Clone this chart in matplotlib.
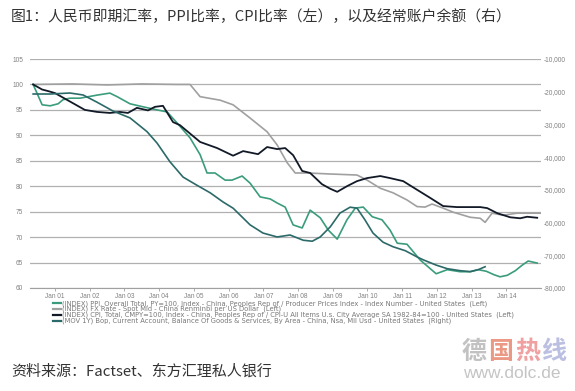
import matplotlib
matplotlib.use("Agg")
import matplotlib.pyplot as plt
from matplotlib.lines import Line2D

# ---------------- data ----------------
ppi_years = [2000.37, 2000.63, 2000.86, 2001.09, 2001.23, 2001.43, 2001.72, 2002.21, 2002.58, 2002.79,
             2003.16, 2003.54, 2003.94, 2004.23, 2004.52, 2004.89, 2005.18, 2005.38, 2005.61, 2005.90,
             2006.10, 2006.39, 2006.62, 2006.91, 2007.20, 2007.40, 2007.63, 2007.86, 2008.12, 2008.35,
             2008.64, 2008.87, 2009.13, 2009.41, 2009.65, 2009.88, 2010.14, 2010.42, 2010.65, 2010.86,
             2011.14, 2011.52, 2011.98, 2012.30, 2012.67, 2012.96, 2013.19, 2013.42, 2013.65, 2013.82,
             2014.03, 2014.26, 2014.46, 2014.63, 2014.89]
ppi_values = [100.0, 96.0, 95.8, 96.2, 97.0, 97.3, 97.3, 97.9, 98.3, 97.6,
              96.2, 95.6, 95.0, 94.6, 92.4, 89.5, 86.2, 82.6, 82.6, 81.2,
              81.2, 82.0, 80.6, 77.9, 77.5, 76.7, 75.9, 72.4, 71.8, 75.3,
              73.8, 71.4, 69.6, 73.4, 75.7, 75.9, 74.0, 73.4, 71.4, 68.8,
              68.6, 65.5, 62.8, 63.6, 63.2, 63.2, 63.6, 63.3, 62.6, 62.2,
              62.5, 63.4, 64.5, 65.3, 64.9]

fx_years = [2000.37, 2001.5, 2002.5, 2003.5, 2004.5, 2004.89, 2005.18, 2005.76, 2006.13, 2006.62,
            2007.11, 2007.40, 2007.69, 2007.92, 2008.29, 2008.93, 2009.70, 2009.99, 2010.37, 2010.74,
            2011.14, 2011.43, 2011.66, 2011.86, 2012.18, 2012.47, 2012.96, 2013.25, 2013.39, 2013.59,
            2013.91, 2014.31, 2014.98]
fx_values = [100.0, 100.1, 99.9, 100.1, 100.0, 100.0, 97.6, 96.9, 96.0, 93.4,
             90.7, 88.1, 84.6, 82.6, 82.6, 82.4, 82.2, 81.2, 79.6, 78.7,
             77.3, 76.0, 75.9, 76.5, 75.7, 74.9, 73.9, 73.7, 72.9, 74.7,
             74.3, 74.7, 74.7]

cpi_years = [2000.37, 2000.63, 2000.80, 2001.00, 2001.86, 2002.21, 2002.58, 2002.87, 2003.10, 2003.36,
             2003.68, 2003.88, 2004.11, 2004.40, 2004.60, 2005.18, 2005.67, 2006.13, 2006.42, 2006.85,
             2007.11, 2007.40, 2007.63, 2007.86, 2008.12, 2008.35, 2008.69, 2008.93, 2009.13, 2009.41,
             2009.70, 2009.99, 2010.37, 2010.65, 2011.03, 2011.43, 2011.81, 2012.18, 2012.58, 2013.25,
             2013.45, 2013.74, 2014.11, 2014.40, 2014.60, 2014.89]
cpi_values = [100.0, 99.0, 98.7, 98.3, 95.0, 94.6, 94.4, 94.6, 94.4, 95.4,
              94.9, 95.6, 95.8, 92.6, 92.0, 88.7, 87.5, 86.0, 86.9, 86.3,
              87.7, 87.3, 87.5, 86.1, 83.0, 82.6, 80.4, 79.5, 78.9, 80.0,
              81.0, 81.6, 82.0, 81.6, 81.0, 79.3, 77.7, 76.1, 75.9, 75.9,
              75.7, 74.7, 73.9, 73.7, 74.0, 73.8]

bop_years = [2000.37, 2000.86, 2001.43, 2001.81, 2002.21, 2002.67, 2003.16, 2003.65, 2003.94, 2004.31,
             2004.69, 2005.09, 2005.47, 2005.84, 2006.13, 2006.62, 2006.99, 2007.40, 2007.77, 2008.15,
             2008.41, 2008.64, 2008.93, 2009.21, 2009.50, 2009.70, 2009.93, 2010.16, 2010.45, 2010.74,
             2011.09, 2011.43, 2011.61, 2011.98, 2012.30, 2012.67, 2012.96, 2013.19, 2013.39]
bop_values = [-20700, -20700, -20400, -21000, -23200, -25900, -28000, -32200, -35700, -41400,
              -46100, -48600, -50900, -53700, -55600, -60700, -63200, -64400, -63800, -65400,
              -65700, -64400, -61300, -57100, -55300, -55600, -59200, -63200, -66000, -67400,
              -68600, -70500, -71400, -73000, -74100, -74700, -75000, -74400, -73500]

x_tick_years = list(range(2001, 2015))
x_tick_labels = ["Jan %02d" % (y % 100) for y in x_tick_years]
left_ticks = list(range(60, 106, 5))
right_ticks = list(range(-80000, -9999, 10000))

series_labels = [
    "(INDEX) PPI, Overall Total, PY=100, Index - China, Peoples Rep of / Producer Prices Index - Index Number - United States  (Left)",
    "(INDEX) FX Rate - Spot Mid - China Renminbi per US Dollar  (Left)",
    "(INDEX) CPI, Total, CMPY=100, Index - China, Peoples Rep of / CPI-U All Items U.s. City Average SA 1982-84=100 - United States  (Left)",
    "(MOV 1Y) Bop, Current Account, Balance Of Goods & Services, By Area - China, Nsa, Mil Usd - United States  (Right)",
]
title_text = "图1：人民币即期汇率，PPI比率，CPI比率（左），以及经常账户余额（右）"
source_text = "资料来源：Factset、东方汇理私人银行"

# ---------------- style ----------------
C_PPI = "#3a9c7c"
C_FX = "#a0a0a0"
C_CPI = "#121a28"
C_BOP = "#2b6a68"
TICK_C = "#808080"
W, H = 575, 391

plt.rcParams['font.family'] = ['Liberation Sans', 'DejaVu Sans']
fig = plt.figure(figsize=(W / 100, H / 100), dpi=100)
fig.patch.set_facecolor("white")

ax_l, ax_r, ax_t, ax_b = 30, 541, 59, 288
ax = fig.add_axes([ax_l / W, 1 - ax_b / H, (ax_r - ax_l) / W, (ax_b - ax_t) / H])
ax2 = ax.twinx()

ax.plot(ppi_years, ppi_values, color=C_PPI, lw=1.2, zorder=3)
ax.plot(fx_years, fx_values, color=C_FX, lw=1.2, zorder=2)
ax.plot(cpi_years, cpi_values, color=C_CPI, lw=1.3, zorder=4)
ax2.plot(bop_years, bop_values, color=C_BOP, lw=1.2, zorder=3)

ax.set_xlim(2000.28, 2015.0)
ax.set_ylim(60, 105)
ax2.set_ylim(-80000, -10000)

ax.set_yticks(left_ticks)
ax.set_yticklabels([str(v) for v in left_ticks])
ax2.set_yticks(right_ticks)
ax2.set_yticklabels([f"{v:,}" for v in right_ticks])
ax.set_xticks(x_tick_years)
ax.set_xticklabels(x_tick_labels)

ax.yaxis.grid(True, color="#b0b0b0", lw=0.9)
ax.set_axisbelow(True)
for a in (ax, ax2):
    for s in ("top", "left", "right"):
        a.spines[s].set_visible(False)
ax2.spines["bottom"].set_visible(False)
ax.spines["bottom"].set_color("#a0a0a0")
ax.spines["bottom"].set_linewidth(0.8)

ax.tick_params(axis="y", length=0, pad=5, labelsize=4.7, labelcolor=TICK_C)
ax2.tick_params(axis="y", length=0, pad=2, labelsize=4.7, labelcolor=TICK_C)
ax.tick_params(axis="x", length=2, width=0.6, color="#a0a0a0", pad=1.5,
               labelsize=4.7, labelcolor=TICK_C)

# legend drawn manually (compact rows)
rows_y = [303.3, 309.1, 314.9, 320.7]
colors = [C_PPI, C_FX, C_CPI, C_BOP]
for yp, lab, col in zip(rows_y, series_labels, colors):
    yf = 1 - yp / H
    fig.add_artist(Line2D([53 / W, 61 / W], [yf, yf], color=col, lw=1.6,
                          transform=fig.transFigure))
    fig.text(62.5 / W, yf, lab, fontsize=4.9, color="#787878", va="center", ha="left",
             family=['DejaVu Sans'])

cjk = ['Noto Sans CJK SC', 'DejaVu Sans']
fig.text(11 / W, 1 - 17 / H, title_text, fontsize=10.7, color="#333333",
         va="center", ha="left", family=cjk)
fig.text(11 / W, 1 - 371 / H, source_text, fontsize=10.8, color="#333333",
         va="center", ha="left", family=cjk)

# watermark
wm_chars = ["德", "国", "热", "线"]
wm_cols = ["#b8b8b8", "#e8866e", "#ee9090", "#b0b4dc"]
for i, (ch, col) in enumerate(zip(wm_chars, wm_cols)):
    fig.text((462 + i * 26.5) / W, 1 - 352 / H, ch, fontsize=18, color=col,
             va="center", ha="left", family=cjk, fontweight="bold", alpha=0.85)
fig.text(463 / W, 1 - 373 / H, "www.dolc.de", fontsize=12.5, color="#c4c4c4",
         va="center", ha="left", family=['Liberation Sans'])

fig.savefig("out.png", dpi=100, facecolor="white")
